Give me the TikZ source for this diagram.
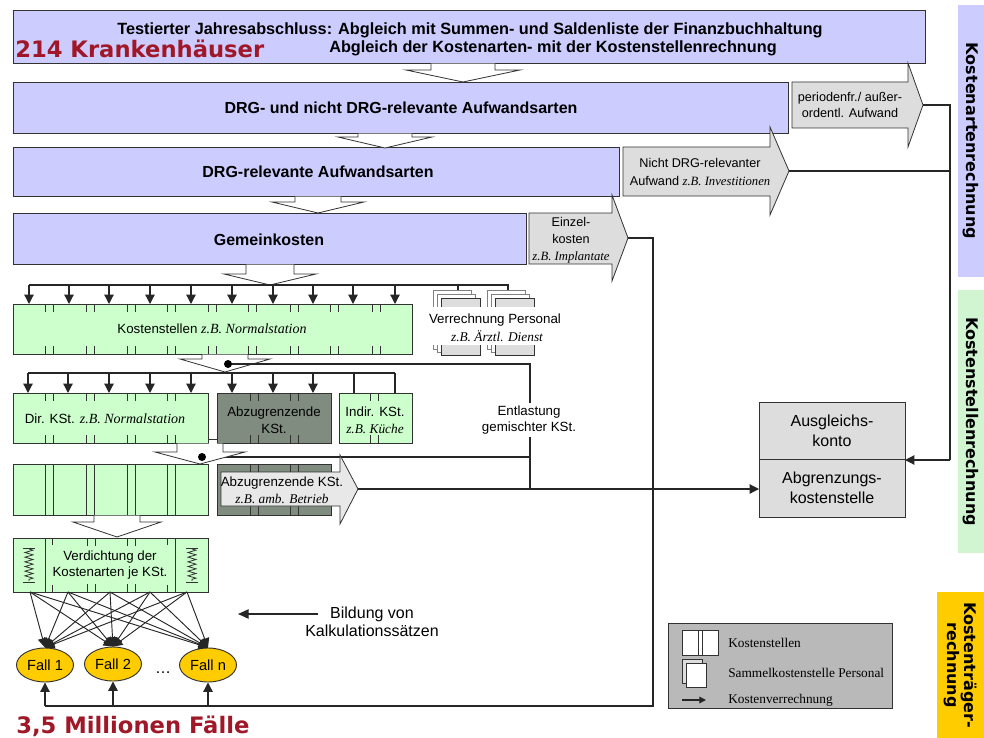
\documentclass[tikz,border=0pt]{standalone}
\usepackage{fontspec}
\setmainfont{Liberation Sans}
\newfontfamily\serifit{Liberation Serif}
\newfontfamily\dvs{DejaVu Sans}
\usetikzlibrary{arrows.meta,decorations.pathmorphing,shapes.geometric}
\definecolor{lav}{RGB}{204,204,255}
\definecolor{grn}{RGB}{204,255,204}
\definecolor{bandgrn}{RGB}{208,245,208}
\definecolor{gold}{RGB}{255,204,0}
\definecolor{lgrey}{RGB}{221,221,221}
\definecolor{llgrey}{RGB}{232,232,232}
\definecolor{dgrn}{RGB}{128,140,128}
\definecolor{leggrey}{RGB}{185,185,185}
\definecolor{redtxt}{RGB}{160,24,40}
\definecolor{edge}{RGB}{50,50,50}
\newcommand{\rectnode}[6]{\node[#6, anchor=north west, minimum width={(#4-#2)*0.75pt}, minimum height={(#5-#3)*0.75pt}] (#1) at (#2,#3) {};}
\newcommand{\openarr}[6]{\draw[oarrow] (#1-#5,#2+0.6) -- (#1-#5,#3) -- (#1-#6,#3) -- (#1,#4) -- (#1+#6,#3) -- (#1+#5,#3) -- (#1+#5,#2+0.6);}
\newcommand{\garr}[9]{\draw[#9] (#1,#2) -- (#3,#2) -- (#3,#5) -- (#7,#8) -- (#3,#6) -- (#3,#4) -- (#1,#4) -- cycle;}
\newcommand{\tickpair}[3]{\draw[tick] (#1,#2) -- (#1,#2+8) (#1+8,#2) -- (#1+8,#2+8) (#1,#3) -- (#1,#3-8) (#1+8,#3) -- (#1+8,#3-8);}
\newcommand{\fullpair}[3]{\draw[tick] (#1,#2) -- (#1,#3) (#1+8,#2) -- (#1+8,#3);}
\newcommand{\persstack}[1]{%
  \draw[draw=gray, fill=white, line width=0.7pt] (#1,290) rectangle (#1+38,349);
  \draw[draw=gray, fill=white, line width=0.7pt] (#1+4,294) rectangle (#1+42,352);
  \draw[draw=edge, fill=lgrey, line width=0.7pt] (#1+8,298) rectangle (#1+47,355);}
\tikzset{
  rect/.style={draw=edge, line width=0.7pt, inner sep=0pt, outer sep=0pt},
  oarrow/.style={draw=edge, fill=white, line width=0.6pt},
  garrow/.style={draw=edge, fill=lgrey, line width=0.6pt},
  conn/.style={draw=black!85, line width=0.9pt},
  arr/.style={conn, -{Triangle[length=7pt,width=7pt]}},
  tick/.style={draw=edge, line width=0.7pt},
  txt/.style={font=\fontsize{10}{12.5}\selectfont, align=center, inner sep=1pt},
  btxt/.style={font=\bfseries\fontsize{12}{14}\selectfont, inner sep=1pt},
  bandtxt/.style={font=\dvs\bfseries\fontsize{12}{13}\selectfont, rotate=-90, align=center},
  redt/.style={font=\dvs\bfseries\fontsize{17}{19}\selectfont, text=redtxt, inner sep=0pt},
  fall/.style={ellipse, draw=edge, line width=0.7pt, fill=gold, minimum width=42.75pt, minimum height=25.5pt, inner sep=0pt, font=\fontsize{11}{13}\selectfont},
  legt/.style={font=\serifit\fontsize{10}{12}\selectfont, anchor=west, inner sep=0pt}
}
\begin{document}
\begin{tikzpicture}[x=0.75pt,y=-0.75pt]
\fill[white] (0,0) rectangle (984,738);
\useasboundingbox (0,0) rectangle (984,738);

% side bands
\rectnode{band1}{958}{5}{984}{277}{rect, draw=none, fill=lav}
\rectnode{band2}{958}{290}{984}{553}{rect, draw=none, fill=bandgrn}
\rectnode{band3}{937}{592}{984}{738}{rect, draw=none, fill=gold}
\node[bandtxt] (band1t) at (band1.center) {Kostenartenrechnung};
\node[bandtxt] (band2t) at (band2.center) {Kostenstellenrechnung};
\node[bandtxt] (band3t) at (band3.center) {Kostenträger-\\rechnung};

% main boxes
\rectnode{b1}{13}{10}{925}{63}{rect, fill=lav}
\rectnode{b2}{13}{82}{788}{133}{rect, fill=lav}
\rectnode{b3}{13}{147}{619}{196}{rect, fill=lav}
\rectnode{b4}{13}{213}{526}{264}{rect, fill=lav}
\node[btxt, font=\bfseries\fontsize{12.2}{14}\selectfont] (b1a) at (470,30) {Testierter Jahresabschluss: Abgleich mit Summen- und Saldenliste der Finanzbuchhaltung};
\node[btxt, font=\bfseries\fontsize{12.2}{14}\selectfont] (b1b) at (553,48) {Abgleich der Kostenarten- mit der Kostenstellenrechnung};
\node[redt, anchor=base west] (red1) at (15,58) {214 Krankenhäuser};
\node[btxt] (b2t) at (401,108) {DRG- und nicht DRG-relevante Aufwandsarten};
\node[btxt] (b3t) at (318,172) {DRG-relevante Aufwandsarten};
\node[btxt] (b4t) at (269,240) {Gemeinkosten};

% open arrows
\openarr{463}{63}{70}{82}{32}{57}
\openarr{385}{133}{137}{148}{27}{47}
\openarr{318}{196}{202}{213}{23}{46}
\openarr{270}{264}{274}{285}{24}{46}

% grey arrows
\garr{792}{82}{908}{128}{63}{147}{923}{105}{garrow}
\garr{623}{147}{770}{196}{127}{215}{789}{171}{garrow}
\garr{529}{213}{612}{264}{195}{281}{628}{238}{garrow}
\coordinate (g1tip) at (923,105);
\coordinate (g2tip) at (789,171);
\coordinate (g3tip) at (628,238);
\node[txt, font=\fontsize{9.5}{12}\selectfont] (g1t) at (850,105) {periodenfr./ außer-\\ordentl. Aufwand};
\node[txt, font=\fontsize{9.5}{13}\selectfont] (g2t) at (700,172) {Nicht DRG-relevanter\\Aufwand {\serifit\itshape z.B. Investitionen}};
\node[txt, font=\fontsize{9.5}{12.75}\selectfont] (g3t) at (571,240) {Einzel-\\kosten\\{\serifit\itshape z.B. Implantate}};

% right boxes
\rectnode{ausg}{759}{402}{905}{459}{rect, fill=lgrey}
\rectnode{abgr}{759}{459}{905}{517}{rect, fill=lgrey}
\node[txt, font=\fontsize{12}{15}\selectfont] (ausgt) at (ausg.center) {Ausgleichs-\\konto};
\node[txt, font=\fontsize{12}{15}\selectfont] (abgrt) at (abgr.center) {Abgrenzungs-\\kostenstelle};

% connectors on the right
\coordinate (j1) at (950,105);
\coordinate (j2) at (950,171);
\coordinate (j3) at (950,460);
\draw[conn] (g1tip) -- (j1) -- (j3);
\draw[arr] (j3) -- (905,460);
\draw[conn] (g2tip) -- (j2);
\coordinate (k1) at (653,238);
\coordinate (k2) at (653,706);
\coordinate (k3) at (45,706);
\draw[conn] (g3tip) -- (k1) -- (k2) -- (k3);

% Kostenstellen bus
\draw[conn] (29,285) -- (508,285) -- (508,290);
\draw[conn] (458,285) -- (458,290);
\foreach \x in {29,69,109,150,191,232,273,313,353,395} \draw[arr] (\x,285) -- (\x,304);

% personal stacks
\persstack{433}
\persstack{487}
\fill[white] (426,307) rectangle (566,345);
\node[txt] (pers1) at (495,320) {Verrechnung Personal};
\node[txt] (pers2) at (497,336) {\serifit\itshape z.B. Ärztl. Dienst};

% Kostenstellen row
\rectnode{ks}{13}{304}{412}{354}{rect, fill=grn}
\foreach \x in {45,86,127,167,208,248,290,330,372} \tickpair{\x}{304}{354};
\node[txt] (kst) at (212,329) {Kostenstellen {\serifit\itshape\fontsize{10.5}{12}\selectfont z.B. Normalstation}};

\openarr{225}{354}{359}{372}{23}{45}

% Entlastung lines
\coordinate (e1) at (530,364);
\coordinate (e2) at (530,489);
\coordinate (e3) at (530,457);
\draw[conn] (228,364) -- (e1) -- (e2);
\draw[conn] (202,457) -- (e3);
\node[txt, fill=white, inner sep=2pt] (entl) at (529,420) {Entlastung\\gemischter KSt.};
\fill (228,364) circle (3pt);

% second bus
\draw[conn] (28,373) -- (395,373);
\foreach \x in {28,68,109,150,191,232,273,313} \draw[arr] (\x,373) -- (\x,393);
\draw[conn] (354,373) -- (354,393);
\draw[conn] (395,373) -- (395,393);

% Dir / Abz / Indir boxes
\rectnode{dir}{13}{393}{208}{443}{rect, fill=grn}
\rectnode{abz}{217}{393}{331}{443}{rect, fill=dgrn}
\rectnode{ind}{339}{393}{412}{443}{rect, fill=grn}
\foreach \x in {45,86,127,167} \tickpair{\x}{393}{443};
\foreach \x in {250,290} \tickpair{\x}{393}{443};
\tickpair{370}{393}{443}
\draw[tick] (dir.east |- 0,439) -- (abz.west |- 0,439);
\node[txt] (dirt) at (105,419) {Dir. KSt. {\serifit\itshape\fontsize{10.5}{12}\selectfont z.B. Normalstation}};
\node[txt] (abzt) at (274,420) {Abzugrenzende\\KSt.};
\node[txt] (indt) at (375,420) {Indir. KSt.\\{\serifit\itshape z.B. Küche}};

\openarr{200}{443}{452}{464}{23}{45}
\fill (202,457) circle (3pt);

% third row
\rectnode{r3}{13}{464}{208}{515}{rect, fill=grn}
\foreach \x in {45,86,127,167} \fullpair{\x}{464}{515};
\rectnode{abz2}{217}{464}{331}{515}{rect, fill=dgrn}
\foreach \x in {250,290} \fullpair{\x}{464}{515};
\garr{221}{472}{340}{506}{455}{524}{358}{489}{draw=edge, fill=llgrey, line width=0.6pt}
\coordinate (g4tip) at (358,489);
\node[txt] (g4t) at (282,490) {Abzugrenzende KSt.\\{\serifit\itshape z.B. amb. Betrieb}};
\draw[arr] (g4tip) -- (abgr.west |- g4tip);

\openarr{117}{515}{522}{537}{23}{44}

% Verdichtung
\rectnode{ver}{13}{538}{208}{592}{rect, fill=grn}
\draw[tick] (45,538) -- (45,592) (175,538) -- (175,592);
\draw[tick] (52,538) -- (52,545) (52,592) -- (52,585);
\foreach \x in {87,127} \tickpair{\x}{538}{592};
\draw[tick] (167,538) -- (167,545) (167,592) -- (167,585);
\foreach \x in {29,192} {
  \draw[tick, line width=0.6pt] (\x-6,548) -- (\x+6,548) (\x-6,582) -- (\x+6,582);
  \draw[tick, line width=0.6pt, decorate, decoration={zigzag, segment length=3.5pt, amplitude=3pt}] (\x,549) -- (\x,581);
}
\node[txt] (vert) at (110,565) {Verdichtung der\\Kostenarten je KSt.};

% Faelle
\node[fall] (f1) at (45,665) {Fall 1};
\node[fall] (f2) at (113,664) {Fall 2};
\node[fall] (fn) at (208,665) {Fall n};
\node[font=\fontsize{12}{14}\selectfont] (dots) at (163,673) {\dots};
\foreach \s in {30,68,110,150,187} {
  \foreach \t in {f1,f2,fn} \draw[conn, line width=0.7pt, -{Triangle[length=7pt,width=7pt]}] (\s,592) -- (\t.north);
}
\draw[arr] (k3) -- (f1.south);
\draw[arr] (f2.south |- k3) -- (f2.south);
\draw[arr] (fn.south |- k3) -- (fn.south);

% Bildung
\node[txt, font=\fontsize{12}{13.5}\selectfont] (bild) at (372,622) {Bildung von\\Kalkulationssätzen};
\draw[conn, line width=1pt, -{Triangle[length=8pt,width=7pt]}] (318,614) -- (238,614);

\node[redt, anchor=base west] (red2) at (16,733) {3,5 Millionen Fälle};

% legend
\rectnode{leg}{668}{623}{892}{708}{rect, fill=leggrey}
\draw[draw=edge, fill=white, line width=0.6pt] (682,630) rectangle (718,655);
\draw[tick, line width=0.6pt] (698,630) -- (698,655) (702,630) -- (702,655);
\draw[draw=edge, fill=lgrey, line width=0.6pt] (682,659) rectangle (702,683);
\draw[draw=edge, fill=white, line width=0.6pt] (686,663) rectangle (706,687);
\draw[conn, -{Triangle[length=5pt,width=5pt]}] (682,700) -- (706,700);
\node[legt] (l1) at (728,643) {Kostenstellen};
\node[legt] (l2) at (728,673) {Sammelkostenstelle Personal};
\node[legt] (l3) at (728,700) {Kostenverrechnung};
\end{tikzpicture}
\end{document}
